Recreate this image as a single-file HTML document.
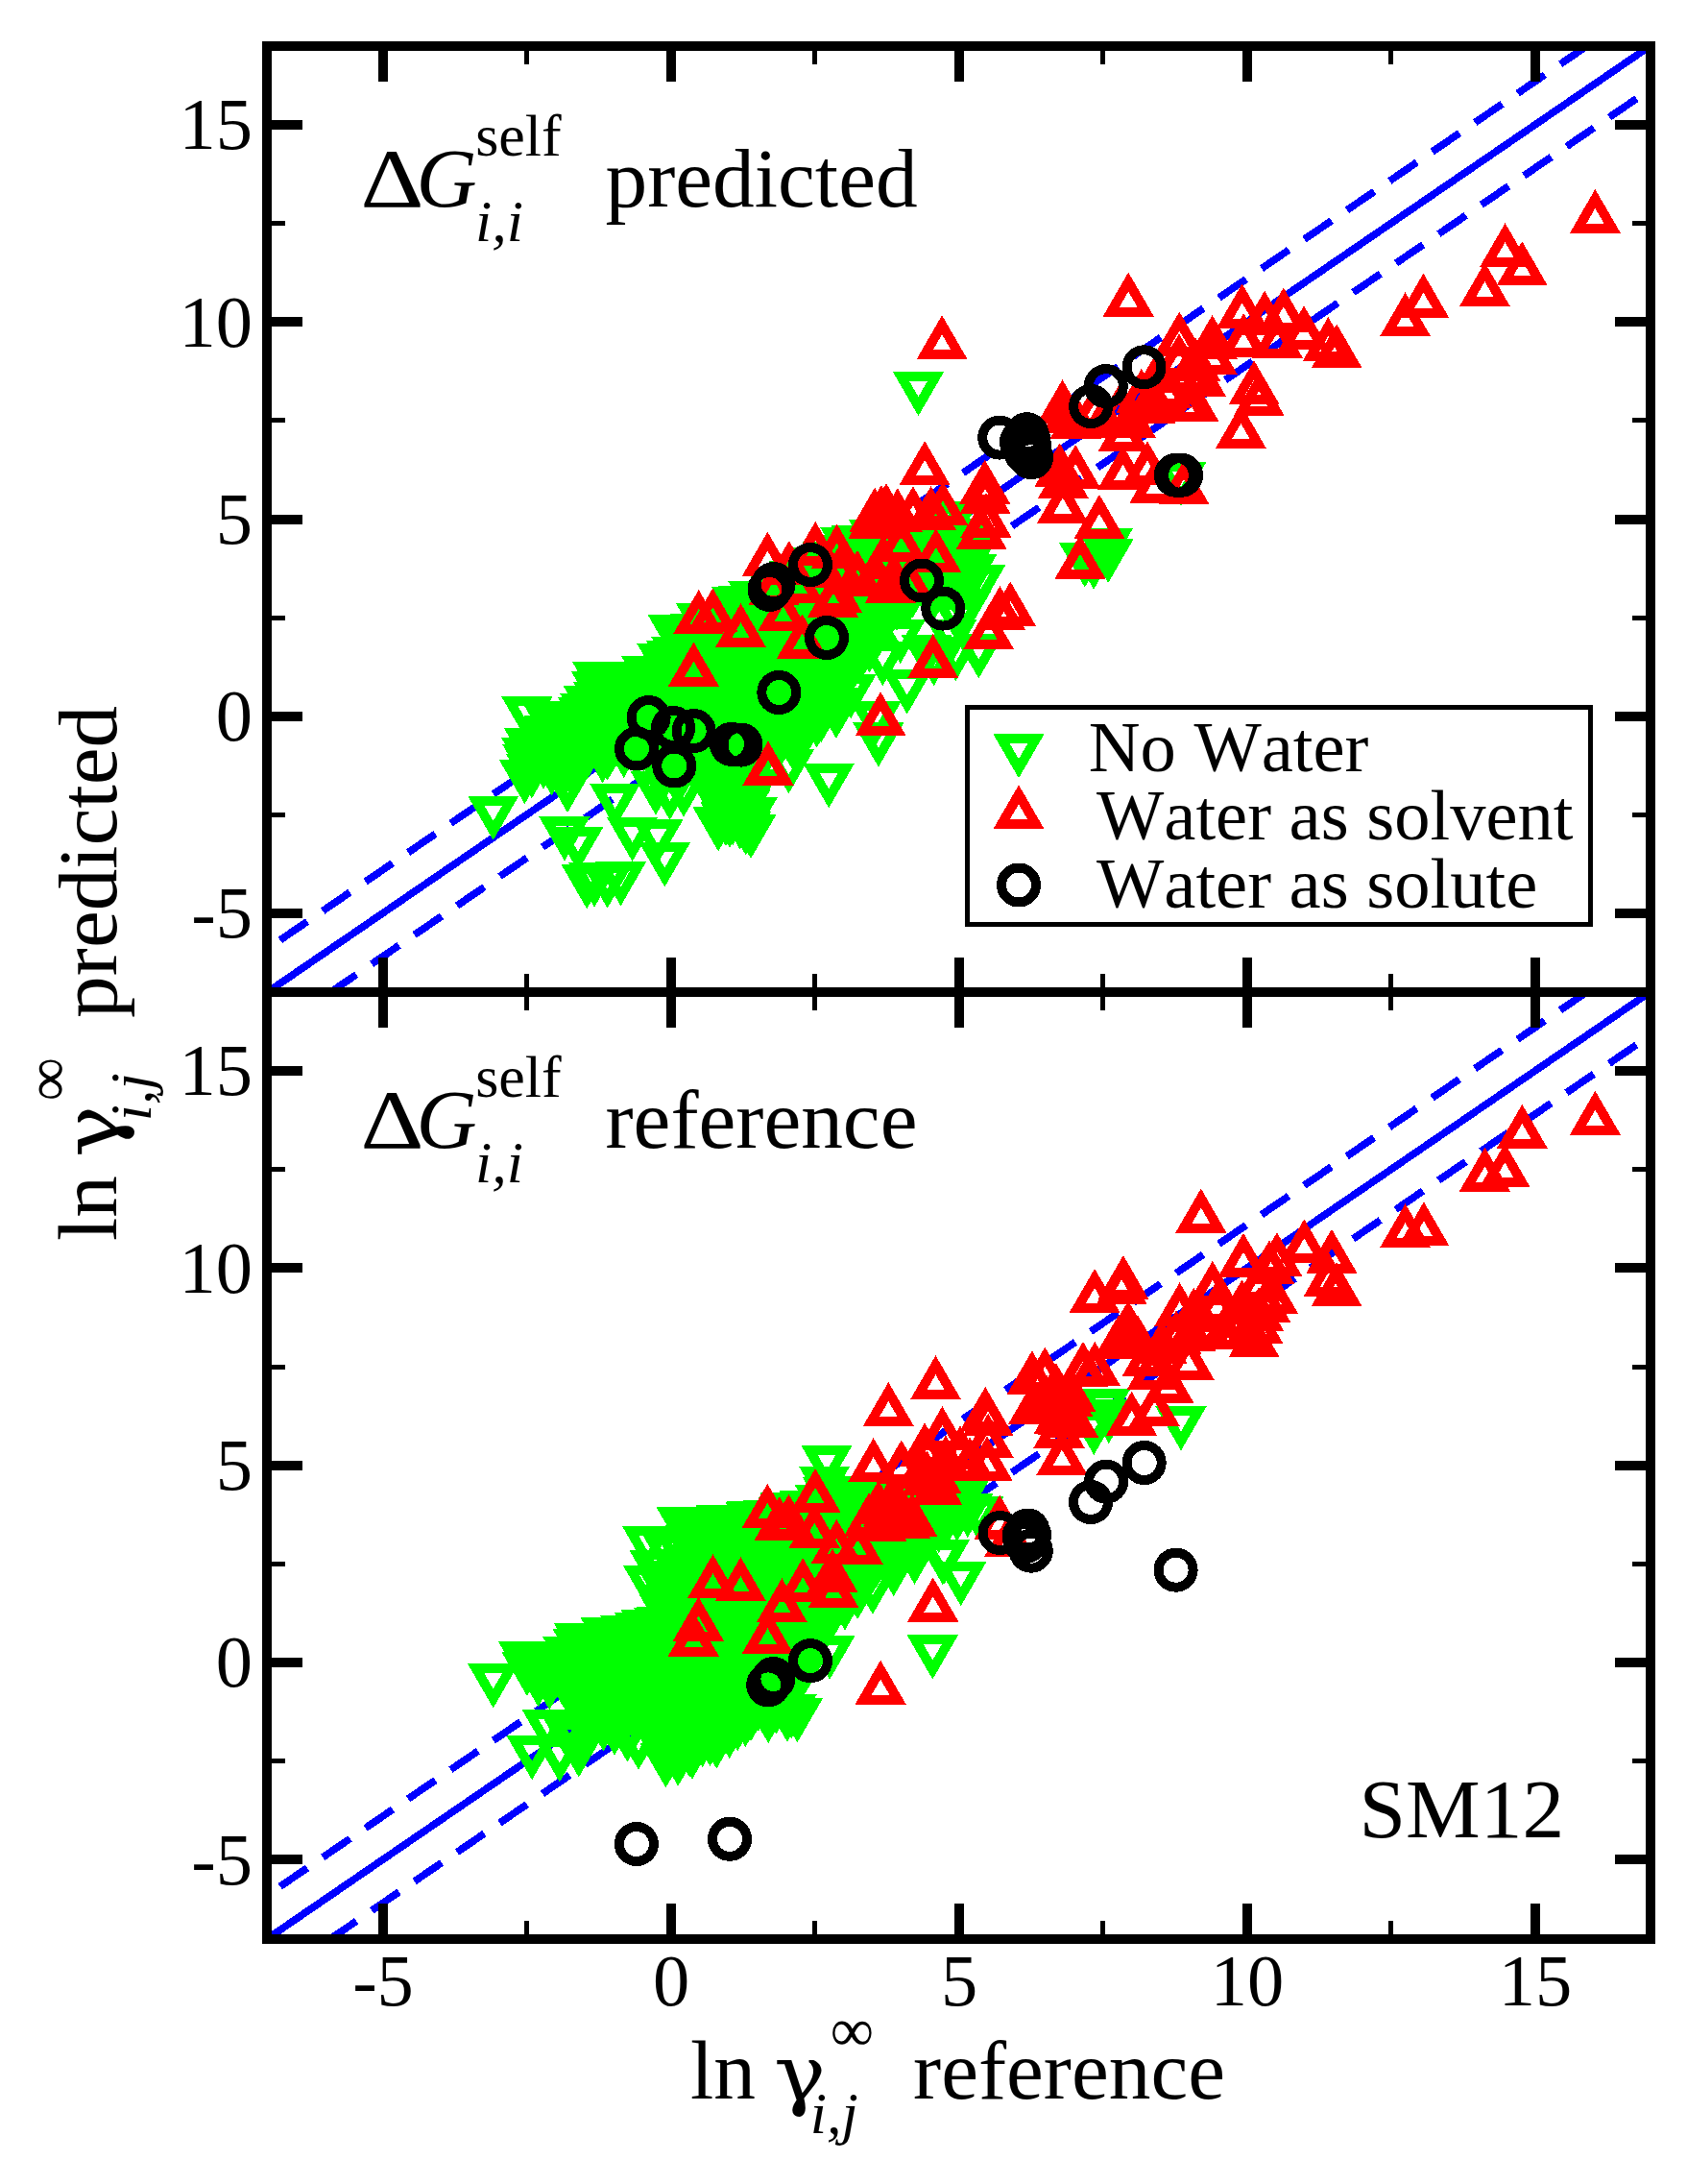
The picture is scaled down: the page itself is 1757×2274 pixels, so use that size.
<!DOCTYPE html>
<html lang="en"><head><meta charset="utf-8"><title>ln gamma infinity: predicted vs reference (SM12)</title>
<style>html,body{margin:0;padding:0;background:#fff}svg{display:block}text{font-family:"Liberation Serif","DejaVu Serif",serif;fill:#000;font-kerning:none;font-variant-ligatures:none}.it{font-style:italic}</style></head><body>
<svg width="1757" height="2274" viewBox="0 0 1757 2274">
<defs>
<path id="g" d="M-18,-10.39L18,-10.39L0,20.78Z" fill="none" stroke="#00ff00" stroke-width="10" stroke-linejoin="miter"/>
<path id="r" d="M0,-20.78L-18,10.39L18,10.39Z" fill="none" stroke="#ff0000" stroke-width="10" stroke-linejoin="miter"/>
<circle id="c" r="18" fill="none" stroke="#000" stroke-width="10"/>
<clipPath id="ct"><rect x="278.5" y="48.0" width="1440.0" height="985.0"/></clipPath>
<clipPath id="cb"><rect x="278.5" y="1033.0" width="1440.0" height="985.5"/></clipPath>
</defs>
<rect width="1757" height="2274" fill="#fff"/>
<g clip-path="url(#ct)" stroke="#0000ff" stroke-width="7.7" fill="none" shape-rendering="crispEdges">
<line x1="278.5" y1="1033.0" x2="1718.5" y2="48.0"/>
<line x1="278.5" y1="987.9" x2="1718.5" y2="2.9" stroke-dasharray="34.35 19.5" stroke-dashoffset="37.85"/>
<line x1="278.5" y1="1078.1" x2="1718.5" y2="93.1" stroke-dasharray="34.35 19.5" stroke-dashoffset="29.85"/>
</g>
<g clip-path="url(#ct)" shape-rendering="crispEdges">
<g>
<use href="#g" x="981.0" y="537.4"/><use href="#g" x="991.6" y="540.2"/><use href="#g" x="921.2" y="553.4"/><use href="#g" x="952.7" y="553.3"/><use href="#g" x="961.5" y="555.4"/><use href="#g" x="973.4" y="553.3"/><use href="#g" x="985.3" y="551.2"/><use href="#g" x="1003.8" y="555.6"/><use href="#g" x="892.3" y="562.4"/><use href="#g" x="904.5" y="564.5"/><use href="#g" x="915.5" y="564.9"/><use href="#g" x="933.2" y="558.4"/><use href="#g" x="946.4" y="564.2"/><use href="#g" x="952.1" y="561.8"/><use href="#g" x="969.6" y="565.9"/><use href="#g" x="980.4" y="562.8"/><use href="#g" x="998.0" y="564.9"/><use href="#g" x="875.3" y="572.8"/><use href="#g" x="884.7" y="569.9"/><use href="#g" x="897.3" y="572.6"/><use href="#g" x="911.0" y="568.3"/><use href="#g" x="927.3" y="572.7"/><use href="#g" x="935.1" y="575.3"/><use href="#g" x="949.6" y="572.5"/><use href="#g" x="963.7" y="568.6"/><use href="#g" x="975.4" y="571.8"/><use href="#g" x="992.2" y="576.5"/><use href="#g" x="998.9" y="572.4"/><use href="#g" x="1010.6" y="572.0"/><use href="#g" x="849.1" y="585.1"/><use href="#g" x="862.3" y="579.3"/><use href="#g" x="880.5" y="582.3"/><use href="#g" x="893.1" y="579.6"/><use href="#g" x="902.6" y="584.7"/><use href="#g" x="912.1" y="580.3"/><use href="#g" x="931.2" y="586.7"/><use href="#g" x="946.8" y="579.5"/><use href="#g" x="955.6" y="585.3"/><use href="#g" x="968.5" y="584.7"/><use href="#g" x="978.7" y="579.1"/><use href="#g" x="990.9" y="578.8"/><use href="#g" x="1008.0" y="583.1"/><use href="#g" x="833.8" y="595.8"/><use href="#g" x="847.4" y="592.5"/><use href="#g" x="860.0" y="589.5"/><use href="#g" x="869.6" y="593.1"/><use href="#g" x="879.5" y="592.1"/><use href="#g" x="898.3" y="594.5"/><use href="#g" x="907.6" y="597.4"/><use href="#g" x="924.5" y="591.9"/><use href="#g" x="937.5" y="594.0"/><use href="#g" x="949.3" y="592.4"/><use href="#g" x="966.5" y="594.7"/><use href="#g" x="976.8" y="595.8"/><use href="#g" x="992.4" y="589.1"/><use href="#g" x="1002.1" y="595.6"/><use href="#g" x="1011.8" y="592.5"/><use href="#g" x="811.5" y="607.4"/><use href="#g" x="827.8" y="599.7"/><use href="#g" x="842.9" y="607.8"/><use href="#g" x="847.6" y="607.5"/><use href="#g" x="863.9" y="603.6"/><use href="#g" x="881.8" y="601.5"/><use href="#g" x="890.7" y="607.8"/><use href="#g" x="905.5" y="603.5"/><use href="#g" x="920.9" y="606.7"/><use href="#g" x="930.4" y="600.3"/><use href="#g" x="943.6" y="603.4"/><use href="#g" x="952.8" y="599.7"/><use href="#g" x="968.8" y="600.4"/><use href="#g" x="981.0" y="605.3"/><use href="#g" x="994.1" y="601.6"/><use href="#g" x="1008.2" y="603.1"/><use href="#g" x="808.8" y="615.3"/><use href="#g" x="821.4" y="611.6"/><use href="#g" x="831.3" y="612.0"/><use href="#g" x="847.8" y="613.0"/><use href="#g" x="859.4" y="618.7"/><use href="#g" x="869.4" y="614.6"/><use href="#g" x="886.2" y="618.0"/><use href="#g" x="896.3" y="613.0"/><use href="#g" x="906.3" y="617.6"/><use href="#g" x="919.2" y="610.4"/><use href="#g" x="936.6" y="614.1"/><use href="#g" x="950.7" y="612.4"/><use href="#g" x="964.5" y="610.3"/><use href="#g" x="972.4" y="615.7"/><use href="#g" x="984.2" y="612.4"/><use href="#g" x="773.9" y="625.2"/><use href="#g" x="790.7" y="626.0"/><use href="#g" x="802.3" y="620.6"/><use href="#g" x="812.9" y="627.2"/><use href="#g" x="821.7" y="620.8"/><use href="#g" x="840.7" y="628.2"/><use href="#g" x="847.7" y="625.8"/><use href="#g" x="861.3" y="626.8"/><use href="#g" x="878.9" y="622.3"/><use href="#g" x="888.0" y="627.0"/><use href="#g" x="903.7" y="627.0"/><use href="#g" x="915.5" y="623.1"/><use href="#g" x="933.8" y="626.2"/><use href="#g" x="942.4" y="624.9"/><use href="#g" x="764.0" y="637.3"/><use href="#g" x="778.3" y="635.4"/><use href="#g" x="795.9" y="634.8"/><use href="#g" x="803.8" y="638.5"/><use href="#g" x="822.8" y="633.6"/><use href="#g" x="832.4" y="639.2"/><use href="#g" x="844.8" y="632.5"/><use href="#g" x="853.9" y="639.1"/><use href="#g" x="873.7" y="634.0"/><use href="#g" x="884.3" y="635.1"/><use href="#g" x="894.9" y="639.5"/><use href="#g" x="911.4" y="632.6"/><use href="#g" x="918.5" y="634.8"/><use href="#g" x="730.6" y="643.6"/><use href="#g" x="747.2" y="647.4"/><use href="#g" x="759.2" y="647.1"/><use href="#g" x="769.9" y="644.4"/><use href="#g" x="786.2" y="649.6"/><use href="#g" x="802.5" y="646.8"/><use href="#g" x="808.1" y="644.3"/><use href="#g" x="827.4" y="643.0"/><use href="#g" x="839.1" y="645.0"/><use href="#g" x="847.0" y="649.9"/><use href="#g" x="867.2" y="642.7"/><use href="#g" x="878.6" y="643.5"/><use href="#g" x="889.4" y="645.8"/><use href="#g" x="901.7" y="643.9"/><use href="#g" x="915.5" y="646.9"/><use href="#g" x="713.6" y="657.2"/><use href="#g" x="724.4" y="654.7"/><use href="#g" x="741.1" y="658.4"/><use href="#g" x="757.0" y="656.8"/><use href="#g" x="763.9" y="658.2"/><use href="#g" x="783.7" y="656.2"/><use href="#g" x="791.7" y="655.8"/><use href="#g" x="802.7" y="657.7"/><use href="#g" x="823.4" y="655.9"/><use href="#g" x="834.0" y="658.9"/><use href="#g" x="842.2" y="659.8"/><use href="#g" x="859.2" y="653.1"/><use href="#g" x="867.2" y="653.5"/><use href="#g" x="884.7" y="657.6"/><use href="#g" x="895.4" y="659.7"/><use href="#g" x="908.7" y="655.5"/><use href="#g" x="708.7" y="664.0"/><use href="#g" x="722.1" y="664.7"/><use href="#g" x="735.8" y="662.0"/><use href="#g" x="749.1" y="663.0"/><use href="#g" x="764.7" y="667.1"/><use href="#g" x="773.2" y="665.4"/><use href="#g" x="787.6" y="667.9"/><use href="#g" x="801.8" y="668.5"/><use href="#g" x="812.4" y="670.7"/><use href="#g" x="828.6" y="669.4"/><use href="#g" x="837.7" y="665.6"/><use href="#g" x="852.1" y="669.9"/><use href="#g" x="864.7" y="666.4"/><use href="#g" x="876.9" y="669.9"/><use href="#g" x="888.9" y="662.1"/><use href="#g" x="905.6" y="669.8"/><use href="#g" x="710.7" y="680.2"/><use href="#g" x="726.3" y="676.6"/><use href="#g" x="744.9" y="680.9"/><use href="#g" x="753.8" y="673.9"/><use href="#g" x="765.1" y="680.4"/><use href="#g" x="783.6" y="673.8"/><use href="#g" x="796.1" y="675.3"/><use href="#g" x="805.7" y="673.6"/><use href="#g" x="822.5" y="681.1"/><use href="#g" x="829.3" y="677.8"/><use href="#g" x="842.2" y="680.1"/><use href="#g" x="853.9" y="673.0"/><use href="#g" x="873.1" y="674.9"/><use href="#g" x="887.6" y="680.0"/><use href="#g" x="898.9" y="673.3"/><use href="#g" x="699.9" y="682.8"/><use href="#g" x="708.2" y="689.3"/><use href="#g" x="720.5" y="690.9"/><use href="#g" x="734.5" y="684.1"/><use href="#g" x="748.0" y="688.3"/><use href="#g" x="759.2" y="688.4"/><use href="#g" x="776.1" y="687.2"/><use href="#g" x="786.6" y="690.1"/><use href="#g" x="801.2" y="687.2"/><use href="#g" x="816.6" y="684.0"/><use href="#g" x="828.0" y="684.0"/><use href="#g" x="839.5" y="684.6"/><use href="#g" x="851.0" y="689.5"/><use href="#g" x="867.1" y="689.6"/><use href="#g" x="875.1" y="686.9"/><use href="#g" x="888.0" y="687.7"/><use href="#g" x="688.9" y="699.8"/><use href="#g" x="706.4" y="694.2"/><use href="#g" x="714.6" y="699.6"/><use href="#g" x="723.8" y="695.0"/><use href="#g" x="744.5" y="694.1"/><use href="#g" x="753.0" y="695.6"/><use href="#g" x="766.3" y="693.5"/><use href="#g" x="775.8" y="701.9"/><use href="#g" x="795.4" y="699.5"/><use href="#g" x="803.5" y="695.2"/><use href="#g" x="819.5" y="695.0"/><use href="#g" x="831.7" y="701.3"/><use href="#g" x="843.8" y="695.9"/><use href="#g" x="862.4" y="698.4"/><use href="#g" x="866.8" y="696.5"/><use href="#g" x="885.4" y="693.4"/><use href="#g" x="629.5" y="711.7"/><use href="#g" x="645.5" y="705.7"/><use href="#g" x="655.2" y="704.6"/><use href="#g" x="673.5" y="706.5"/><use href="#g" x="684.9" y="709.8"/><use href="#g" x="699.2" y="703.4"/><use href="#g" x="706.9" y="706.7"/><use href="#g" x="717.7" y="711.3"/><use href="#g" x="732.9" y="710.3"/><use href="#g" x="747.7" y="703.7"/><use href="#g" x="759.5" y="705.4"/><use href="#g" x="769.3" y="704.6"/><use href="#g" x="787.4" y="703.5"/><use href="#g" x="797.8" y="707.1"/><use href="#g" x="812.9" y="704.5"/><use href="#g" x="827.4" y="705.6"/><use href="#g" x="840.6" y="709.3"/><use href="#g" x="848.3" y="705.1"/><use href="#g" x="862.5" y="709.7"/><use href="#g" x="876.6" y="706.8"/><use href="#g" x="621.6" y="714.5"/><use href="#g" x="635.6" y="717.5"/><use href="#g" x="646.8" y="719.0"/><use href="#g" x="664.8" y="718.7"/><use href="#g" x="677.8" y="713.9"/><use href="#g" x="688.0" y="717.0"/><use href="#g" x="698.0" y="717.3"/><use href="#g" x="710.9" y="718.2"/><use href="#g" x="728.8" y="717.9"/><use href="#g" x="739.4" y="716.0"/><use href="#g" x="749.7" y="716.8"/><use href="#g" x="770.6" y="718.8"/><use href="#g" x="777.8" y="719.7"/><use href="#g" x="790.1" y="717.9"/><use href="#g" x="807.0" y="722.3"/><use href="#g" x="817.7" y="718.9"/><use href="#g" x="836.0" y="720.7"/><use href="#g" x="846.2" y="719.3"/><use href="#g" x="857.2" y="717.4"/><use href="#g" x="869.0" y="721.2"/><use href="#g" x="621.7" y="731.6"/><use href="#g" x="627.4" y="729.7"/><use href="#g" x="643.4" y="729.2"/><use href="#g" x="655.3" y="726.6"/><use href="#g" x="671.8" y="728.9"/><use href="#g" x="680.1" y="726.3"/><use href="#g" x="693.9" y="725.7"/><use href="#g" x="708.6" y="725.2"/><use href="#g" x="717.5" y="724.7"/><use href="#g" x="730.9" y="730.5"/><use href="#g" x="744.0" y="728.2"/><use href="#g" x="763.0" y="728.4"/><use href="#g" x="770.4" y="731.9"/><use href="#g" x="789.9" y="724.5"/><use href="#g" x="797.3" y="728.7"/><use href="#g" x="815.2" y="727.6"/><use href="#g" x="827.5" y="726.3"/><use href="#g" x="840.5" y="727.0"/><use href="#g" x="850.0" y="731.0"/><use href="#g" x="867.6" y="731.6"/><use href="#g" x="609.8" y="737.3"/><use href="#g" x="626.7" y="742.1"/><use href="#g" x="635.0" y="738.0"/><use href="#g" x="651.1" y="741.4"/><use href="#g" x="667.4" y="738.0"/><use href="#g" x="677.8" y="739.4"/><use href="#g" x="691.7" y="735.8"/><use href="#g" x="699.0" y="735.4"/><use href="#g" x="718.9" y="736.7"/><use href="#g" x="727.9" y="735.5"/><use href="#g" x="739.4" y="734.6"/><use href="#g" x="754.6" y="735.8"/><use href="#g" x="768.1" y="736.9"/><use href="#g" x="777.5" y="738.8"/><use href="#g" x="791.8" y="736.8"/><use href="#g" x="801.9" y="735.0"/><use href="#g" x="822.6" y="737.3"/><use href="#g" x="828.2" y="736.1"/><use href="#g" x="844.8" y="743.5"/><use href="#g" x="855.3" y="742.3"/><use href="#g" x="870.9" y="738.2"/><use href="#g" x="569.7" y="745.0"/><use href="#g" x="578.7" y="752.2"/><use href="#g" x="594.2" y="751.5"/><use href="#g" x="603.6" y="752.2"/><use href="#g" x="620.5" y="751.8"/><use href="#g" x="634.9" y="745.8"/><use href="#g" x="647.6" y="748.5"/><use href="#g" x="658.4" y="747.1"/><use href="#g" x="673.2" y="745.1"/><use href="#g" x="683.2" y="746.9"/><use href="#g" x="694.5" y="748.2"/><use href="#g" x="709.9" y="752.2"/><use href="#g" x="720.3" y="750.7"/><use href="#g" x="733.2" y="747.4"/><use href="#g" x="751.2" y="747.8"/><use href="#g" x="756.8" y="747.9"/><use href="#g" x="775.7" y="746.8"/><use href="#g" x="788.7" y="749.8"/><use href="#g" x="801.1" y="746.5"/><use href="#g" x="808.9" y="746.2"/><use href="#g" x="824.1" y="748.8"/><use href="#g" x="834.0" y="749.4"/><use href="#g" x="850.6" y="747.8"/><use href="#g" x="562.2" y="761.0"/><use href="#g" x="572.0" y="760.4"/><use href="#g" x="581.5" y="762.9"/><use href="#g" x="599.7" y="759.4"/><use href="#g" x="612.5" y="759.1"/><use href="#g" x="623.0" y="757.3"/><use href="#g" x="637.9" y="760.5"/><use href="#g" x="650.1" y="755.5"/><use href="#g" x="664.2" y="759.3"/><use href="#g" x="676.8" y="760.7"/><use href="#g" x="692.9" y="756.6"/><use href="#g" x="701.7" y="764.3"/><use href="#g" x="717.2" y="758.1"/><use href="#g" x="730.2" y="764.3"/><use href="#g" x="740.1" y="763.1"/><use href="#g" x="750.6" y="764.3"/><use href="#g" x="766.9" y="757.4"/><use href="#g" x="783.1" y="761.2"/><use href="#g" x="797.0" y="762.8"/><use href="#g" x="808.7" y="759.9"/><use href="#g" x="823.5" y="755.8"/><use href="#g" x="835.4" y="761.7"/><use href="#g" x="551.5" y="773.4"/><use href="#g" x="566.6" y="773.9"/><use href="#g" x="574.6" y="774.6"/><use href="#g" x="588.8" y="771.4"/><use href="#g" x="607.9" y="772.3"/><use href="#g" x="614.7" y="771.7"/><use href="#g" x="629.9" y="765.8"/><use href="#g" x="642.0" y="768.5"/><use href="#g" x="657.7" y="768.2"/><use href="#g" x="670.4" y="772.0"/><use href="#g" x="679.6" y="766.8"/><use href="#g" x="697.3" y="769.9"/><use href="#g" x="705.1" y="766.7"/><use href="#g" x="725.5" y="771.2"/><use href="#g" x="733.2" y="767.4"/><use href="#g" x="752.0" y="771.9"/><use href="#g" x="762.6" y="768.9"/><use href="#g" x="771.8" y="769.4"/><use href="#g" x="783.3" y="771.4"/><use href="#g" x="798.8" y="773.1"/><use href="#g" x="811.7" y="769.8"/><use href="#g" x="548.9" y="783.8"/><use href="#g" x="559.8" y="781.0"/><use href="#g" x="568.4" y="784.2"/><use href="#g" x="581.3" y="779.4"/><use href="#g" x="596.9" y="782.6"/><use href="#g" x="612.5" y="779.2"/><use href="#g" x="627.6" y="784.7"/><use href="#g" x="632.7" y="781.8"/><use href="#g" x="649.7" y="779.3"/><use href="#g" x="662.7" y="778.9"/><use href="#g" x="677.6" y="781.6"/><use href="#g" x="693.3" y="784.9"/><use href="#g" x="706.5" y="779.6"/><use href="#g" x="718.0" y="782.0"/><use href="#g" x="729.8" y="785.1"/><use href="#g" x="737.1" y="780.3"/><use href="#g" x="753.1" y="782.0"/><use href="#g" x="764.4" y="785.1"/><use href="#g" x="777.4" y="779.4"/><use href="#g" x="789.8" y="779.6"/><use href="#g" x="549.9" y="790.6"/><use href="#g" x="566.0" y="790.6"/><use href="#g" x="581.7" y="787.4"/><use href="#g" x="594.7" y="787.9"/><use href="#g" x="691.2" y="787.5"/><use href="#g" x="706.7" y="795.2"/><use href="#g" x="722.8" y="794.2"/><use href="#g" x="730.4" y="790.2"/><use href="#g" x="743.7" y="788.8"/><use href="#g" x="757.0" y="794.8"/><use href="#g" x="771.9" y="790.9"/><use href="#g" x="787.9" y="794.5"/><use href="#g" x="585.1" y="803.7"/><use href="#g" x="593.9" y="797.7"/><use href="#g" x="704.6" y="802.7"/><use href="#g" x="741.5" y="805.3"/><use href="#g" x="755.3" y="797.1"/><use href="#g" x="771.0" y="803.7"/><use href="#g" x="780.7" y="796.9"/><use href="#g" x="743.5" y="814.8"/><use href="#g" x="759.4" y="813.8"/><use href="#g" x="772.9" y="812.9"/><use href="#g" x="787.0" y="816.1"/><use href="#g" x="758.0" y="822.3"/><use href="#g" x="767.6" y="820.8"/><use href="#g" x="777.6" y="826.3"/><use href="#g" x="749.8" y="835.4"/><use href="#g" x="756.0" y="828.7"/><use href="#g" x="776.2" y="836.9"/><use href="#g" x="758.1" y="840.2"/><use href="#g" x="763.7" y="844.6"/><use href="#g" x="783.5" y="845.1"/><use href="#g" x="760.1" y="851.9"/><use href="#g" x="777.3" y="851.0"/><use href="#g" x="513.7" y="844.0"/><use href="#g" x="548.9" y="740.7"/><use href="#g" x="622.8" y="704.6"/><use href="#g" x="673.8" y="698.6"/><use href="#g" x="690.0" y="685.6"/><use href="#g" x="704.7" y="678.3"/><use href="#g" x="701.1" y="655.2"/><use href="#g" x="612.9" y="728.9"/><use href="#g" x="623.7" y="725.5"/><use href="#g" x="607.5" y="741.7"/><use href="#g" x="768.0" y="626.8"/><use href="#g" x="785.0" y="620.6"/><use href="#g" x="881.0" y="564.6"/><use href="#g" x="910.6" y="556.5"/><use href="#g" x="956.5" y="402.4"/><use href="#g" x="546.4" y="806.4"/><use href="#g" x="574.5" y="797.6"/><use href="#g" x="591.0" y="815.4"/><use href="#g" x="553.8" y="800.7"/><use href="#g" x="588.0" y="865.7"/><use href="#g" x="602.0" y="876.0"/><use href="#g" x="685.0" y="868.5"/><use href="#g" x="658.6" y="866.2"/><use href="#g" x="692.3" y="892.7"/><use href="#g" x="611.2" y="915.5"/><use href="#g" x="646.5" y="912.5"/><use href="#g" x="619.1" y="913.8"/><use href="#g" x="632.6" y="914.8"/><use href="#g" x="640.6" y="831.1"/><use href="#g" x="748.1" y="855.7"/><use href="#g" x="756.0" y="850.5"/><use href="#g" x="763.3" y="849.5"/><use href="#g" x="770.5" y="853.6"/><use href="#g" x="776.8" y="859.9"/><use href="#g" x="782.0" y="863.3"/><use href="#g" x="774.1" y="837.6"/><use href="#g" x="863.2" y="810.5"/><use href="#g" x="914.9" y="767.8"/><use href="#g" x="944.7" y="712.8"/><use href="#g" x="995.2" y="678.5"/><use href="#g" x="1019.3" y="675.7"/><use href="#g" x="828.0" y="775.5"/><use href="#g" x="1129.8" y="580.8"/><use href="#g" x="1153.2" y="565.8"/><use href="#g" x="1154.2" y="576.2"/><use href="#g" x="1139.2" y="582.9"/><use href="#g" x="1230.0" y="495.9"/><use href="#g" x="1020.9" y="603.2"/><use href="#g" x="937.6" y="660.3"/><use href="#g" x="990.9" y="660.3"/><use href="#g" x="965.0" y="676.0"/><use href="#g" x="919.3" y="683.5"/><use href="#g" x="972.6" y="683.5"/><use href="#g" x="912.0" y="745.8"/><use href="#g" x="886.1" y="717.6"/><use href="#g" x="821.4" y="795.6"/><use href="#g" x="683.0" y="818.0"/><use href="#g" x="697.6" y="823.2"/><use href="#g" x="712.0" y="820.0"/><use href="#g" x="1006.0" y="630.0"/><use href="#g" x="998.0" y="640.0"/>
</g>
<g>
<use href="#r" x="722.4" y="699.3"/><use href="#r" x="771.5" y="659.0"/><use href="#r" x="727.7" y="644.8"/><use href="#r" x="800.0" y="802.3"/><use href="#r" x="742.3" y="643.0"/><use href="#r" x="799.4" y="584.5"/><use href="#r" x="821.8" y="593.8"/><use href="#r" x="849.2" y="573.7"/><use href="#r" x="871.6" y="576.2"/><use href="#r" x="963.1" y="489.8"/><use href="#r" x="835.6" y="670.2"/><use href="#r" x="815.7" y="642.0"/><use href="#r" x="867.4" y="627.5"/><use href="#r" x="871.3" y="622.4"/><use href="#r" x="927.4" y="612.6"/><use href="#r" x="971.8" y="690.6"/><use href="#r" x="917.1" y="751.0"/><use href="#r" x="974.8" y="580.8"/><use href="#r" x="1029.6" y="661.0"/><use href="#r" x="1041.5" y="640.8"/><use href="#r" x="1052.2" y="636.2"/><use href="#r" x="1025.7" y="509.4"/><use href="#r" x="1026.0" y="519.8"/><use href="#r" x="1027.0" y="544.4"/><use href="#r" x="1022.2" y="556.8"/><use href="#r" x="1106.5" y="426.0"/><use href="#r" x="1120.1" y="493.8"/><use href="#r" x="1106.8" y="529.2"/><use href="#r" x="1145.0" y="545.7"/><use href="#r" x="1125.0" y="587.5"/><use href="#r" x="1169.5" y="494.5"/><use href="#r" x="1232.9" y="509.8"/><use href="#r" x="1202.7" y="509.0"/><use href="#r" x="1292.4" y="451.8"/><use href="#r" x="1175.2" y="314.3"/><use href="#r" x="1293.7" y="326.2"/><use href="#r" x="1317.1" y="333.4"/><use href="#r" x="1336.8" y="330.3"/><use href="#r" x="1358.0" y="349.0"/><use href="#r" x="1383.3" y="360.8"/><use href="#r" x="1392.2" y="368.1"/><use href="#r" x="1228.3" y="355.2"/><use href="#r" x="1262.6" y="358.7"/><use href="#r" x="1306.1" y="406.0"/><use href="#r" x="1311.2" y="417.9"/><use href="#r" x="1235.3" y="424.1"/><use href="#r" x="1243.2" y="424.1"/><use href="#r" x="1177.5" y="440.7"/><use href="#r" x="981.1" y="359.0"/><use href="#r" x="1661.4" y="227.7"/><use href="#r" x="1567.6" y="263.0"/><use href="#r" x="1585.3" y="282.1"/><use href="#r" x="1546.4" y="304.0"/><use href="#r" x="1482.5" y="315.4"/><use href="#r" x="1463.6" y="335.1"/><use href="#r" x="911.1" y="538.3"/><use href="#r" x="917.8" y="536.0"/><use href="#r" x="923.0" y="533.8"/><use href="#r" x="934.8" y="539.0"/><use href="#r" x="1103.7" y="492.1"/><use href="#r" x="1107.4" y="503.9"/><use href="#r" x="938.5" y="569.2"/><use href="#r" x="919.8" y="587.2"/><use href="#r" x="893.0" y="603.5"/><use href="#r" x="913.0" y="605.3"/><use href="#r" x="875.0" y="597.0"/><use href="#r" x="950.9" y="536.9"/><use href="#r" x="969.6" y="536.9"/><use href="#r" x="982.0" y="532.0"/><use href="#r" x="909.7" y="546.1"/><use href="#r" x="924.3" y="546.1"/><use href="#r" x="1120.3" y="441.2"/><use href="#r" x="1150.0" y="441.0"/><use href="#r" x="1140.0" y="431.0"/><use href="#r" x="1165.0" y="432.0"/><use href="#r" x="1170.0" y="455.0"/><use href="#r" x="1195.0" y="490.0"/><use href="#r" x="1295.2" y="356.9"/><use href="#r" x="1330.2" y="357.4"/><use href="#r" x="1262.3" y="374.8"/><use href="#r" x="1250.5" y="397.8"/><use href="#r" x="1237.8" y="392.2"/><use href="#r" x="1245.0" y="382.0"/><use href="#r" x="1228.0" y="378.0"/><use href="#r" x="1188.9" y="414.6"/><use href="#r" x="1206.6" y="394.0"/><use href="#r" x="1200.0" y="418.0"/><use href="#r" x="1215.0" y="410.0"/><use href="#r" x="946.8" y="610.8"/><use href="#r" x="806.0" y="615.0"/><use href="#r" x="832.0" y="613.0"/><use href="#r" x="1198.0" y="426.0"/><use href="#r" x="1112.0" y="436.0"/>
</g>
<g>
<use href="#c" x="675.6" y="747.1"/><use href="#c" x="663.0" y="779.5"/><use href="#c" x="702.3" y="797.5"/><use href="#c" x="701.1" y="757.9"/><use href="#c" x="722.6" y="761.0"/><use href="#c" x="762.0" y="774.9"/><use href="#c" x="771.5" y="775.6"/><use href="#c" x="811.3" y="721.0"/><use href="#c" x="861.0" y="664.0"/><use href="#c" x="801.5" y="613.9"/><use href="#c" x="805.6" y="608.1"/><use href="#c" x="844.0" y="588.0"/><use href="#c" x="960.0" y="604.5"/><use href="#c" x="982.3" y="633.6"/><use href="#c" x="1041.2" y="455.6"/><use href="#c" x="1069.5" y="452.2"/><use href="#c" x="1074.0" y="476.2"/><use href="#c" x="1064.0" y="460.0"/><use href="#c" x="1072.0" y="464.0"/><use href="#c" x="1136.2" y="423.0"/><use href="#c" x="1151.8" y="402.1"/><use href="#c" x="1191.5" y="382.3"/><use href="#c" x="1224.9" y="494.8"/><use href="#c" x="1230.1" y="494.8"/><use href="#c" x="1068.0" y="470.0"/><use href="#c" x="1071.0" y="457.0"/>
</g>
</g>
<g clip-path="url(#cb)" stroke="#0000ff" stroke-width="7.7" fill="none" shape-rendering="crispEdges">
<line x1="278.5" y1="2018.5" x2="1718.5" y2="1033.0"/>
<line x1="278.5" y1="1973.3" x2="1718.5" y2="987.8" stroke-dasharray="34.35 19.5" stroke-dashoffset="37.85"/>
<line x1="278.5" y1="2063.7" x2="1718.5" y2="1078.2" stroke-dasharray="34.35 19.5" stroke-dashoffset="29.85"/>
</g>
<g clip-path="url(#cb)" shape-rendering="crispEdges">
<g>
<use href="#g" x="862.1" y="1553.0"/><use href="#g" x="877.2" y="1551.9"/><use href="#g" x="902.4" y="1555.0"/><use href="#g" x="913.2" y="1555.7"/><use href="#g" x="926.8" y="1554.0"/><use href="#g" x="939.5" y="1551.9"/><use href="#g" x="970.3" y="1552.2"/><use href="#g" x="983.2" y="1552.8"/><use href="#g" x="861.8" y="1564.2"/><use href="#g" x="868.0" y="1567.1"/><use href="#g" x="887.7" y="1559.9"/><use href="#g" x="892.6" y="1563.8"/><use href="#g" x="906.7" y="1564.9"/><use href="#g" x="922.7" y="1564.7"/><use href="#g" x="936.6" y="1565.3"/><use href="#g" x="951.9" y="1563.7"/><use href="#g" x="962.8" y="1561.2"/><use href="#g" x="971.7" y="1559.1"/><use href="#g" x="991.2" y="1560.1"/><use href="#g" x="1000.3" y="1561.1"/><use href="#g" x="800.5" y="1577.0"/><use href="#g" x="816.9" y="1574.7"/><use href="#g" x="824.9" y="1569.2"/><use href="#g" x="841.6" y="1572.2"/><use href="#g" x="850.4" y="1569.2"/><use href="#g" x="860.3" y="1572.2"/><use href="#g" x="881.8" y="1575.4"/><use href="#g" x="892.4" y="1574.7"/><use href="#g" x="901.4" y="1570.2"/><use href="#g" x="917.4" y="1569.2"/><use href="#g" x="930.3" y="1573.3"/><use href="#g" x="942.9" y="1569.8"/><use href="#g" x="951.6" y="1573.0"/><use href="#g" x="965.3" y="1574.5"/><use href="#g" x="979.8" y="1574.3"/><use href="#g" x="996.8" y="1574.2"/><use href="#g" x="1007.8" y="1570.4"/><use href="#g" x="741.7" y="1588.1"/><use href="#g" x="755.3" y="1587.0"/><use href="#g" x="764.2" y="1585.7"/><use href="#g" x="782.1" y="1579.7"/><use href="#g" x="795.9" y="1580.7"/><use href="#g" x="803.4" y="1579.6"/><use href="#g" x="820.5" y="1580.3"/><use href="#g" x="836.3" y="1579.1"/><use href="#g" x="847.8" y="1586.0"/><use href="#g" x="858.6" y="1584.3"/><use href="#g" x="873.7" y="1584.8"/><use href="#g" x="880.7" y="1586.3"/><use href="#g" x="895.7" y="1584.4"/><use href="#g" x="910.1" y="1587.3"/><use href="#g" x="922.2" y="1586.8"/><use href="#g" x="932.2" y="1582.0"/><use href="#g" x="950.6" y="1584.6"/><use href="#g" x="965.0" y="1580.9"/><use href="#g" x="977.8" y="1586.3"/><use href="#g" x="984.8" y="1580.3"/><use href="#g" x="718.4" y="1594.5"/><use href="#g" x="732.2" y="1589.8"/><use href="#g" x="748.3" y="1598.5"/><use href="#g" x="763.0" y="1596.1"/><use href="#g" x="770.3" y="1594.6"/><use href="#g" x="787.7" y="1596.4"/><use href="#g" x="799.0" y="1589.9"/><use href="#g" x="816.4" y="1591.9"/><use href="#g" x="827.7" y="1593.7"/><use href="#g" x="841.0" y="1592.5"/><use href="#g" x="847.8" y="1593.3"/><use href="#g" x="864.3" y="1596.7"/><use href="#g" x="876.6" y="1595.5"/><use href="#g" x="889.4" y="1596.1"/><use href="#g" x="900.5" y="1597.5"/><use href="#g" x="920.5" y="1589.7"/><use href="#g" x="932.8" y="1596.5"/><use href="#g" x="944.3" y="1590.4"/><use href="#g" x="957.6" y="1596.5"/><use href="#g" x="719.4" y="1603.7"/><use href="#g" x="731.5" y="1602.1"/><use href="#g" x="737.3" y="1605.6"/><use href="#g" x="755.8" y="1602.2"/><use href="#g" x="770.9" y="1608.7"/><use href="#g" x="781.7" y="1608.8"/><use href="#g" x="797.4" y="1601.2"/><use href="#g" x="808.1" y="1606.6"/><use href="#g" x="821.1" y="1602.9"/><use href="#g" x="832.4" y="1605.2"/><use href="#g" x="848.2" y="1600.3"/><use href="#g" x="856.9" y="1602.7"/><use href="#g" x="873.7" y="1600.9"/><use href="#g" x="880.0" y="1600.9"/><use href="#g" x="893.5" y="1603.8"/><use href="#g" x="913.3" y="1603.1"/><use href="#g" x="919.4" y="1605.9"/><use href="#g" x="934.5" y="1605.0"/><use href="#g" x="951.3" y="1604.0"/><use href="#g" x="708.7" y="1611.8"/><use href="#g" x="722.5" y="1614.2"/><use href="#g" x="737.1" y="1611.3"/><use href="#g" x="744.8" y="1613.8"/><use href="#g" x="756.0" y="1613.9"/><use href="#g" x="777.7" y="1618.1"/><use href="#g" x="783.6" y="1617.8"/><use href="#g" x="797.0" y="1612.4"/><use href="#g" x="813.8" y="1612.9"/><use href="#g" x="822.8" y="1611.0"/><use href="#g" x="835.6" y="1612.0"/><use href="#g" x="855.2" y="1610.6"/><use href="#g" x="864.9" y="1612.2"/><use href="#g" x="879.5" y="1610.3"/><use href="#g" x="889.3" y="1617.0"/><use href="#g" x="899.2" y="1614.0"/><use href="#g" x="914.9" y="1614.7"/><use href="#g" x="930.7" y="1611.0"/><use href="#g" x="704.7" y="1628.3"/><use href="#g" x="716.8" y="1623.5"/><use href="#g" x="732.3" y="1626.3"/><use href="#g" x="739.3" y="1627.8"/><use href="#g" x="751.5" y="1622.8"/><use href="#g" x="770.7" y="1621.2"/><use href="#g" x="783.4" y="1624.3"/><use href="#g" x="793.7" y="1626.9"/><use href="#g" x="809.7" y="1622.7"/><use href="#g" x="815.3" y="1625.3"/><use href="#g" x="829.5" y="1624.5"/><use href="#g" x="841.5" y="1621.5"/><use href="#g" x="858.6" y="1621.1"/><use href="#g" x="868.9" y="1624.2"/><use href="#g" x="880.3" y="1628.0"/><use href="#g" x="900.7" y="1620.9"/><use href="#g" x="912.8" y="1622.3"/><use href="#g" x="925.1" y="1621.2"/><use href="#g" x="711.7" y="1639.8"/><use href="#g" x="723.1" y="1634.0"/><use href="#g" x="737.9" y="1631.2"/><use href="#g" x="748.1" y="1635.2"/><use href="#g" x="764.0" y="1636.7"/><use href="#g" x="770.8" y="1632.6"/><use href="#g" x="782.3" y="1637.9"/><use href="#g" x="802.1" y="1634.4"/><use href="#g" x="810.0" y="1636.1"/><use href="#g" x="822.7" y="1635.8"/><use href="#g" x="837.1" y="1634.0"/><use href="#g" x="853.2" y="1633.3"/><use href="#g" x="863.0" y="1636.2"/><use href="#g" x="881.5" y="1632.4"/><use href="#g" x="888.7" y="1633.5"/><use href="#g" x="901.8" y="1635.5"/><use href="#g" x="698.5" y="1648.3"/><use href="#g" x="711.7" y="1644.7"/><use href="#g" x="723.6" y="1647.9"/><use href="#g" x="742.1" y="1642.2"/><use href="#g" x="758.1" y="1650.5"/><use href="#g" x="769.3" y="1648.8"/><use href="#g" x="781.9" y="1641.7"/><use href="#g" x="790.9" y="1643.6"/><use href="#g" x="801.6" y="1647.3"/><use href="#g" x="819.8" y="1644.7"/><use href="#g" x="834.3" y="1643.6"/><use href="#g" x="843.0" y="1642.5"/><use href="#g" x="855.6" y="1649.2"/><use href="#g" x="870.9" y="1648.2"/><use href="#g" x="887.3" y="1647.5"/><use href="#g" x="895.7" y="1650.3"/><use href="#g" x="694.6" y="1655.7"/><use href="#g" x="710.1" y="1655.8"/><use href="#g" x="717.6" y="1653.9"/><use href="#g" x="730.4" y="1652.3"/><use href="#g" x="746.2" y="1655.3"/><use href="#g" x="760.1" y="1653.7"/><use href="#g" x="771.1" y="1655.9"/><use href="#g" x="784.6" y="1654.2"/><use href="#g" x="799.4" y="1658.8"/><use href="#g" x="808.5" y="1652.0"/><use href="#g" x="825.0" y="1660.0"/><use href="#g" x="839.7" y="1655.2"/><use href="#g" x="855.8" y="1658.0"/><use href="#g" x="867.5" y="1659.5"/><use href="#g" x="873.3" y="1653.6"/><use href="#g" x="893.1" y="1655.4"/><use href="#g" x="693.5" y="1665.2"/><use href="#g" x="705.2" y="1665.2"/><use href="#g" x="718.6" y="1666.4"/><use href="#g" x="731.4" y="1663.5"/><use href="#g" x="740.0" y="1665.4"/><use href="#g" x="756.6" y="1670.1"/><use href="#g" x="763.7" y="1666.0"/><use href="#g" x="777.0" y="1662.8"/><use href="#g" x="789.6" y="1662.9"/><use href="#g" x="804.2" y="1666.2"/><use href="#g" x="822.7" y="1668.2"/><use href="#g" x="834.4" y="1665.3"/><use href="#g" x="843.4" y="1666.0"/><use href="#g" x="855.6" y="1662.4"/><use href="#g" x="869.0" y="1670.7"/><use href="#g" x="879.9" y="1666.8"/><use href="#g" x="692.3" y="1675.5"/><use href="#g" x="713.0" y="1680.3"/><use href="#g" x="725.2" y="1677.2"/><use href="#g" x="735.7" y="1676.3"/><use href="#g" x="749.6" y="1677.5"/><use href="#g" x="759.2" y="1681.5"/><use href="#g" x="773.5" y="1673.0"/><use href="#g" x="789.4" y="1673.5"/><use href="#g" x="797.5" y="1676.8"/><use href="#g" x="809.9" y="1676.7"/><use href="#g" x="825.0" y="1677.5"/><use href="#g" x="839.9" y="1678.9"/><use href="#g" x="847.4" y="1674.8"/><use href="#g" x="861.0" y="1675.7"/><use href="#g" x="689.1" y="1688.0"/><use href="#g" x="699.2" y="1683.8"/><use href="#g" x="710.7" y="1685.0"/><use href="#g" x="724.9" y="1688.7"/><use href="#g" x="743.8" y="1687.9"/><use href="#g" x="755.3" y="1686.9"/><use href="#g" x="763.1" y="1689.8"/><use href="#g" x="782.4" y="1684.4"/><use href="#g" x="791.3" y="1689.3"/><use href="#g" x="807.9" y="1684.5"/><use href="#g" x="818.0" y="1686.6"/><use href="#g" x="832.4" y="1690.5"/><use href="#g" x="841.8" y="1686.5"/><use href="#g" x="861.8" y="1684.7"/><use href="#g" x="643.1" y="1700.4"/><use href="#g" x="653.3" y="1699.4"/><use href="#g" x="666.6" y="1694.5"/><use href="#g" x="684.3" y="1700.5"/><use href="#g" x="691.9" y="1693.8"/><use href="#g" x="705.8" y="1698.7"/><use href="#g" x="717.2" y="1702.1"/><use href="#g" x="730.1" y="1700.2"/><use href="#g" x="750.3" y="1696.9"/><use href="#g" x="763.4" y="1695.0"/><use href="#g" x="776.0" y="1698.7"/><use href="#g" x="789.7" y="1700.7"/><use href="#g" x="802.1" y="1701.3"/><use href="#g" x="810.3" y="1693.7"/><use href="#g" x="822.5" y="1700.3"/><use href="#g" x="838.7" y="1697.9"/><use href="#g" x="851.3" y="1693.7"/><use href="#g" x="602.2" y="1711.7"/><use href="#g" x="610.7" y="1708.8"/><use href="#g" x="625.8" y="1706.2"/><use href="#g" x="632.6" y="1712.9"/><use href="#g" x="650.4" y="1711.1"/><use href="#g" x="663.3" y="1704.5"/><use href="#g" x="672.4" y="1706.0"/><use href="#g" x="693.2" y="1711.3"/><use href="#g" x="700.1" y="1707.9"/><use href="#g" x="719.3" y="1708.4"/><use href="#g" x="726.3" y="1708.7"/><use href="#g" x="738.0" y="1709.0"/><use href="#g" x="750.1" y="1708.6"/><use href="#g" x="763.5" y="1704.2"/><use href="#g" x="782.3" y="1708.4"/><use href="#g" x="789.9" y="1707.5"/><use href="#g" x="809.5" y="1707.1"/><use href="#g" x="816.9" y="1708.2"/><use href="#g" x="835.6" y="1709.5"/><use href="#g" x="844.8" y="1709.6"/><use href="#g" x="608.8" y="1717.3"/><use href="#g" x="619.3" y="1718.0"/><use href="#g" x="634.2" y="1718.8"/><use href="#g" x="645.9" y="1719.6"/><use href="#g" x="658.5" y="1721.1"/><use href="#g" x="668.5" y="1718.3"/><use href="#g" x="683.6" y="1720.8"/><use href="#g" x="696.3" y="1717.5"/><use href="#g" x="708.4" y="1718.9"/><use href="#g" x="720.4" y="1717.2"/><use href="#g" x="730.5" y="1714.9"/><use href="#g" x="744.4" y="1715.0"/><use href="#g" x="759.3" y="1723.1"/><use href="#g" x="772.6" y="1722.6"/><use href="#g" x="788.2" y="1722.7"/><use href="#g" x="800.9" y="1723.0"/><use href="#g" x="815.3" y="1715.0"/><use href="#g" x="821.0" y="1723.0"/><use href="#g" x="837.1" y="1720.2"/><use href="#g" x="561.4" y="1733.6"/><use href="#g" x="574.4" y="1732.1"/><use href="#g" x="584.4" y="1729.4"/><use href="#g" x="598.4" y="1733.5"/><use href="#g" x="614.2" y="1724.8"/><use href="#g" x="625.7" y="1731.2"/><use href="#g" x="640.6" y="1733.1"/><use href="#g" x="649.1" y="1728.4"/><use href="#g" x="660.6" y="1726.4"/><use href="#g" x="679.4" y="1731.4"/><use href="#g" x="692.0" y="1727.6"/><use href="#g" x="704.4" y="1724.8"/><use href="#g" x="715.0" y="1727.5"/><use href="#g" x="726.2" y="1733.7"/><use href="#g" x="736.5" y="1733.3"/><use href="#g" x="755.5" y="1733.7"/><use href="#g" x="766.1" y="1732.8"/><use href="#g" x="780.5" y="1729.9"/><use href="#g" x="794.2" y="1727.0"/><use href="#g" x="807.0" y="1726.2"/><use href="#g" x="814.7" y="1731.2"/><use href="#g" x="827.7" y="1733.0"/><use href="#g" x="549.0" y="1735.3"/><use href="#g" x="563.2" y="1739.7"/><use href="#g" x="576.8" y="1738.7"/><use href="#g" x="593.8" y="1741.1"/><use href="#g" x="602.1" y="1743.1"/><use href="#g" x="616.2" y="1740.2"/><use href="#g" x="629.2" y="1741.9"/><use href="#g" x="644.2" y="1739.6"/><use href="#g" x="653.5" y="1735.8"/><use href="#g" x="667.3" y="1742.8"/><use href="#g" x="686.4" y="1738.7"/><use href="#g" x="691.6" y="1736.9"/><use href="#g" x="712.5" y="1736.2"/><use href="#g" x="720.7" y="1735.7"/><use href="#g" x="734.5" y="1738.2"/><use href="#g" x="751.9" y="1744.0"/><use href="#g" x="760.5" y="1742.7"/><use href="#g" x="775.1" y="1739.3"/><use href="#g" x="789.0" y="1735.4"/><use href="#g" x="796.5" y="1742.6"/><use href="#g" x="812.7" y="1741.3"/><use href="#g" x="826.5" y="1742.7"/><use href="#g" x="836.2" y="1736.7"/><use href="#g" x="560.6" y="1746.5"/><use href="#g" x="572.2" y="1749.5"/><use href="#g" x="586.3" y="1746.0"/><use href="#g" x="600.6" y="1750.2"/><use href="#g" x="608.7" y="1747.0"/><use href="#g" x="626.9" y="1745.6"/><use href="#g" x="637.8" y="1748.2"/><use href="#g" x="648.6" y="1754.2"/><use href="#g" x="659.7" y="1747.1"/><use href="#g" x="671.6" y="1748.8"/><use href="#g" x="685.1" y="1745.9"/><use href="#g" x="703.7" y="1754.0"/><use href="#g" x="712.0" y="1750.9"/><use href="#g" x="732.2" y="1747.1"/><use href="#g" x="737.9" y="1750.0"/><use href="#g" x="749.9" y="1750.7"/><use href="#g" x="770.0" y="1753.5"/><use href="#g" x="776.5" y="1750.5"/><use href="#g" x="793.0" y="1749.6"/><use href="#g" x="803.1" y="1751.0"/><use href="#g" x="815.8" y="1751.7"/><use href="#g" x="828.3" y="1745.5"/><use href="#g" x="595.0" y="1759.1"/><use href="#g" x="603.1" y="1757.5"/><use href="#g" x="621.0" y="1764.3"/><use href="#g" x="626.4" y="1759.9"/><use href="#g" x="642.6" y="1758.0"/><use href="#g" x="658.0" y="1763.4"/><use href="#g" x="668.3" y="1764.8"/><use href="#g" x="683.5" y="1758.1"/><use href="#g" x="697.2" y="1757.1"/><use href="#g" x="707.7" y="1761.1"/><use href="#g" x="718.6" y="1756.8"/><use href="#g" x="733.4" y="1763.6"/><use href="#g" x="744.8" y="1760.1"/><use href="#g" x="761.5" y="1757.5"/><use href="#g" x="772.4" y="1763.7"/><use href="#g" x="789.1" y="1760.9"/><use href="#g" x="800.6" y="1755.9"/><use href="#g" x="810.1" y="1759.1"/><use href="#g" x="821.5" y="1759.9"/><use href="#g" x="640.1" y="1770.4"/><use href="#g" x="651.8" y="1771.4"/><use href="#g" x="666.5" y="1775.1"/><use href="#g" x="676.8" y="1772.8"/><use href="#g" x="690.9" y="1773.8"/><use href="#g" x="701.2" y="1772.2"/><use href="#g" x="714.2" y="1774.1"/><use href="#g" x="730.9" y="1769.3"/><use href="#g" x="741.4" y="1775.2"/><use href="#g" x="756.1" y="1768.3"/><use href="#g" x="766.8" y="1767.0"/><use href="#g" x="777.9" y="1773.6"/><use href="#g" x="790.1" y="1771.9"/><use href="#g" x="808.4" y="1774.9"/><use href="#g" x="818.3" y="1766.8"/><use href="#g" x="673.3" y="1781.8"/><use href="#g" x="683.9" y="1780.6"/><use href="#g" x="694.2" y="1782.0"/><use href="#g" x="711.1" y="1784.9"/><use href="#g" x="719.3" y="1780.8"/><use href="#g" x="734.0" y="1783.5"/><use href="#g" x="750.9" y="1785.5"/><use href="#g" x="762.0" y="1782.1"/><use href="#g" x="770.0" y="1777.2"/><use href="#g" x="782.1" y="1782.3"/><use href="#g" x="800.2" y="1777.0"/><use href="#g" x="674.1" y="1792.1"/><use href="#g" x="690.8" y="1792.1"/><use href="#g" x="699.2" y="1788.5"/><use href="#g" x="718.0" y="1795.2"/><use href="#g" x="726.5" y="1792.7"/><use href="#g" x="745.2" y="1788.4"/><use href="#g" x="754.1" y="1794.2"/><use href="#g" x="768.4" y="1792.3"/><use href="#g" x="684.1" y="1806.0"/><use href="#g" x="696.8" y="1801.1"/><use href="#g" x="708.5" y="1801.5"/><use href="#g" x="717.8" y="1805.0"/><use href="#g" x="731.5" y="1799.4"/><use href="#g" x="745.9" y="1803.8"/><use href="#g" x="759.7" y="1800.3"/><use href="#g" x="693.0" y="1809.7"/><use href="#g" x="701.6" y="1813.3"/><use href="#g" x="717.9" y="1816.2"/><use href="#g" x="731.6" y="1809.4"/><use href="#g" x="739.5" y="1808.3"/><use href="#g" x="694.7" y="1820.7"/><use href="#g" x="705.2" y="1820.5"/><use href="#g" x="718.1" y="1819.7"/><use href="#g" x="513.7" y="1747.6"/><use href="#g" x="545.7" y="1724.8"/><use href="#g" x="591.8" y="1719.6"/><use href="#g" x="603.6" y="1705.7"/><use href="#g" x="631.2" y="1699.5"/><use href="#g" x="652.0" y="1697.8"/><use href="#g" x="673.3" y="1691.6"/><use href="#g" x="686.2" y="1689.1"/><use href="#g" x="675.6" y="1645.5"/><use href="#g" x="682.1" y="1629.5"/><use href="#g" x="674.6" y="1604.4"/><use href="#g" x="709.9" y="1584.1"/><use href="#g" x="751.4" y="1582.6"/><use href="#g" x="783.8" y="1578.4"/><use href="#g" x="818.1" y="1569.1"/><use href="#g" x="837.8" y="1567.0"/><use href="#g" x="854.4" y="1561.8"/><use href="#g" x="858.6" y="1542.1"/><use href="#g" x="861.0" y="1520.3"/><use href="#g" x="554.1" y="1822.5"/><use href="#g" x="582.8" y="1824.8"/><use href="#g" x="602.8" y="1819.7"/><use href="#g" x="628.4" y="1792.7"/><use href="#g" x="653.4" y="1803.8"/><use href="#g" x="693.4" y="1830.6"/><use href="#g" x="706.2" y="1829.0"/><use href="#g" x="721.0" y="1821.7"/><use href="#g" x="746.3" y="1810.9"/><use href="#g" x="776.3" y="1788.5"/><use href="#g" x="800.2" y="1784.3"/><use href="#g" x="819.9" y="1782.9"/><use href="#g" x="830.4" y="1783.6"/><use href="#g" x="824.2" y="1779.3"/><use href="#g" x="864.2" y="1718.0"/><use href="#g" x="908.9" y="1650.1"/><use href="#g" x="930.7" y="1631.4"/><use href="#g" x="952.5" y="1619.0"/><use href="#g" x="981.9" y="1619.5"/><use href="#g" x="1000.7" y="1641.5"/><use href="#g" x="971.3" y="1717.8"/><use href="#g" x="983.6" y="1618.3"/><use href="#g" x="1019.2" y="1573.2"/><use href="#g" x="1230.0" y="1479.7"/><use href="#g" x="1139.2" y="1478.7"/><use href="#g" x="1154.8" y="1472.4"/><use href="#g" x="1150.5" y="1461.8"/><use href="#g" x="1139.3" y="1484.2"/><use href="#g" x="1003.0" y="1557.4"/><use href="#g" x="570.0" y="1795.0"/><use href="#g" x="590.0" y="1800.0"/><use href="#g" x="612.0" y="1790.0"/><use href="#g" x="640.0" y="1797.0"/><use href="#g" x="665.0" y="1812.0"/><use href="#g" x="600.0" y="1806.0"/><use href="#g" x="695.0" y="1612.0"/><use href="#g" x="700.0" y="1640.0"/>
</g>
<g>
<use href="#r" x="742.5" y="1648.9"/><use href="#r" x="771.4" y="1652.0"/><use href="#r" x="727.4" y="1693.3"/><use href="#r" x="722.3" y="1709.3"/><use href="#r" x="799.5" y="1706.2"/><use href="#r" x="799.3" y="1575.5"/><use href="#r" x="811.8" y="1589.0"/><use href="#r" x="917.1" y="1759.4"/><use href="#r" x="974.5" y="1442.1"/><use href="#r" x="925.3" y="1469.8"/><use href="#r" x="981.4" y="1495.0"/><use href="#r" x="963.1" y="1512.1"/><use href="#r" x="909.7" y="1527.9"/><use href="#r" x="938.8" y="1530.1"/><use href="#r" x="849.1" y="1559.6"/><use href="#r" x="821.5" y="1586.6"/><use href="#r" x="942.8" y="1587.0"/><use href="#r" x="937.0" y="1574.6"/><use href="#r" x="925.3" y="1574.1"/><use href="#r" x="871.3" y="1612.5"/><use href="#r" x="893.4" y="1613.8"/><use href="#r" x="848.2" y="1596.4"/><use href="#r" x="836.2" y="1652.9"/><use href="#r" x="868.0" y="1659.0"/><use href="#r" x="971.7" y="1673.2"/><use href="#r" x="814.4" y="1674.0"/><use href="#r" x="867.0" y="1643.0"/><use href="#r" x="1026.2" y="1474.7"/><use href="#r" x="1074.9" y="1437.1"/><use href="#r" x="1088.3" y="1433.4"/><use href="#r" x="1127.8" y="1428.2"/><use href="#r" x="1140.3" y="1427.6"/><use href="#r" x="1140.1" y="1351.7"/><use href="#r" x="1168.2" y="1343.1"/><use href="#r" x="1106.0" y="1520.4"/><use href="#r" x="1202.5" y="1470.0"/><use href="#r" x="1178.6" y="1479.5"/><use href="#r" x="1217.1" y="1446.0"/><use href="#r" x="1238.1" y="1421.3"/><use href="#r" x="1027.9" y="1526.2"/><use href="#r" x="1029.1" y="1502.4"/><use href="#r" x="1041.2" y="1587.3"/><use href="#r" x="1051.7" y="1605.5"/><use href="#r" x="1250.8" y="1268.3"/><use href="#r" x="1295.0" y="1314.5"/><use href="#r" x="1329.9" y="1313.9"/><use href="#r" x="1358.3" y="1300.0"/><use href="#r" x="1387.0" y="1310.5"/><use href="#r" x="1392.1" y="1345.1"/><use href="#r" x="1383.9" y="1335.1"/><use href="#r" x="1169.9" y="1337.8"/><use href="#r" x="1262.9" y="1343.6"/><use href="#r" x="1228.6" y="1366.0"/><use href="#r" x="1293.4" y="1363.3"/><use href="#r" x="1243.2" y="1371.6"/><use href="#r" x="1325.4" y="1352.4"/><use href="#r" x="1310.9" y="1371.0"/><use href="#r" x="1306.1" y="1398.0"/><use href="#r" x="1128.0" y="1427.6"/><use href="#r" x="1172.6" y="1393.4"/><use href="#r" x="1463.6" y="1284.0"/><use href="#r" x="1482.9" y="1282.1"/><use href="#r" x="1546.4" y="1225.3"/><use href="#r" x="1567.3" y="1221.1"/><use href="#r" x="1585.3" y="1180.6"/><use href="#r" x="1661.4" y="1166.5"/><use href="#r" x="1029.0" y="1480.0"/><use href="#r" x="1000.0" y="1515.0"/><use href="#r" x="985.0" y="1525.0"/><use href="#r" x="1010.0" y="1527.0"/><use href="#r" x="960.0" y="1535.0"/><use href="#r" x="975.0" y="1540.0"/><use href="#r" x="975.6" y="1551.5"/><use href="#r" x="965.6" y="1541.5"/><use href="#r" x="1076.8" y="1467.4"/><use href="#r" x="1103.0" y="1492.3"/><use href="#r" x="1106.7" y="1472.0"/><use href="#r" x="1106.7" y="1479.0"/><use href="#r" x="1100.0" y="1450.0"/><use href="#r" x="1115.0" y="1455.0"/><use href="#r" x="1090.0" y="1462.0"/><use href="#r" x="1268.0" y="1363.0"/><use href="#r" x="1180.0" y="1394.0"/><use href="#r" x="1100.0" y="1452.0"/><use href="#r" x="1112.0" y="1460.0"/><use href="#r" x="1103.0" y="1478.0"/><use href="#r" x="1118.0" y="1482.0"/><use href="#r" x="1095.0" y="1465.0"/><use href="#r" x="1195.0" y="1418.0"/><use href="#r" x="1210.0" y="1405.0"/><use href="#r" x="1225.0" y="1395.0"/><use href="#r" x="1200.0" y="1432.0"/><use href="#r" x="1255.0" y="1385.0"/><use href="#r" x="1275.0" y="1390.0"/><use href="#r" x="1285.0" y="1378.0"/><use href="#r" x="1240.0" y="1392.0"/><use href="#r" x="905.0" y="1585.0"/><use href="#r" x="918.0" y="1590.0"/><use href="#r" x="950.0" y="1585.0"/><use href="#r" x="930.0" y="1565.0"/><use href="#r" x="915.0" y="1572.0"/><use href="#r" x="1175.0" y="1385.0"/><use href="#r" x="1185.0" y="1400.0"/><use href="#r" x="1165.0" y="1400.0"/><use href="#r" x="1322.0" y="1322.0"/><use href="#r" x="1312.0" y="1340.0"/><use href="#r" x="1300.0" y="1390.0"/><use href="#r" x="1310.0" y="1384.0"/><use href="#r" x="1292.0" y="1378.0"/><use href="#r" x="1318.0" y="1362.0"/>
</g>
<g>
<use href="#c" x="662.9" y="1920.0"/><use href="#c" x="760.0" y="1914.8"/><use href="#c" x="844.0" y="1729.2"/><use href="#c" x="800.2" y="1754.4"/><use href="#c" x="805.4" y="1748.1"/><use href="#c" x="1191.7" y="1523.0"/><use href="#c" x="1152.0" y="1542.7"/><use href="#c" x="1136.0" y="1564.0"/><use href="#c" x="1041.5" y="1596.0"/><use href="#c" x="1070.3" y="1593.5"/><use href="#c" x="1073.8" y="1614.7"/><use href="#c" x="1066.6" y="1599.7"/><use href="#c" x="1224.6" y="1634.7"/><use href="#c" x="1068.0" y="1605.0"/><use href="#c" x="1072.0" y="1598.0"/>
</g>
</g>
<g stroke="#000" fill="none" shape-rendering="crispEdges">
<path d="M278,43V2024M1719,43V2024M273,48H1724M273,2018.5H1724" stroke-width="10"/>
<line x1="278.5" y1="1033.0" x2="1718.5" y2="1033.0" stroke-width="10"/>
<path d="M398.5,48.0v36.5M398.5,996.5v73.0M398.5,2018.5v-36.5M278.5,950.9h36.5M1718.5,950.9h-36.5M278.5,1936.4h36.5M1718.5,1936.4h-36.5M698.5,48.0v36.5M698.5,996.5v73.0M698.5,2018.5v-36.5M278.5,745.7h36.5M1718.5,745.7h-36.5M278.5,1731.1h36.5M1718.5,1731.1h-36.5M998.5,48.0v36.5M998.5,996.5v73.0M998.5,2018.5v-36.5M278.5,540.5h36.5M1718.5,540.5h-36.5M278.5,1525.8h36.5M1718.5,1525.8h-36.5M1298.5,48.0v36.5M1298.5,996.5v73.0M1298.5,2018.5v-36.5M278.5,335.3h36.5M1718.5,335.3h-36.5M278.5,1320.4h36.5M1718.5,1320.4h-36.5M1598.5,48.0v36.5M1598.5,996.5v73.0M1598.5,2018.5v-36.5M278.5,130.1h36.5M1718.5,130.1h-36.5M278.5,1115.1h36.5M1718.5,1115.1h-36.5" stroke-width="10"/>
<path d="M548.5,48.0v18.7M548.5,1014.3v37.4M548.5,2018.5v-18.7M278.5,848.3h18.7M1718.5,848.3h-18.7M278.5,1833.7h18.7M1718.5,1833.7h-18.7M848.5,48.0v18.7M848.5,1014.3v37.4M848.5,2018.5v-18.7M278.5,643.1h18.7M1718.5,643.1h-18.7M278.5,1628.4h18.7M1718.5,1628.4h-18.7M1148.5,48.0v18.7M1148.5,1014.3v37.4M1148.5,2018.5v-18.7M278.5,437.9h18.7M1718.5,437.9h-18.7M278.5,1423.1h18.7M1718.5,1423.1h-18.7M1448.5,48.0v18.7M1448.5,1014.3v37.4M1448.5,2018.5v-18.7M278.5,232.7h18.7M1718.5,232.7h-18.7M278.5,1217.8h18.7M1718.5,1217.8h-18.7" stroke-width="5"/>
</g>
<g font-size="76.5">
<text x="399.0" y="2087.8" text-anchor="middle">-5</text>
<text x="263" y="976.1" text-anchor="end">-5</text>
<text x="263" y="1961.6" text-anchor="end">-5</text>
<text x="699.0" y="2087.8" text-anchor="middle">0</text>
<text x="263" y="770.9" text-anchor="end">0</text>
<text x="263" y="1756.3" text-anchor="end">0</text>
<text x="999.0" y="2087.8" text-anchor="middle">5</text>
<text x="263" y="565.7" text-anchor="end">5</text>
<text x="263" y="1551.0" text-anchor="end">5</text>
<text x="1299.0" y="2087.8" text-anchor="middle">10</text>
<text x="263" y="360.5" text-anchor="end">10</text>
<text x="263" y="1345.6" text-anchor="end">10</text>
<text x="1599.0" y="2087.8" text-anchor="middle">15</text>
<text x="263" y="155.3" text-anchor="end">15</text>
<text x="263" y="1140.3" text-anchor="end">15</text>
</g>
<rect x="1007" y="736" width="649" height="226" fill="#fff" stroke="#000" stroke-width="5" shape-rendering="crispEdges"/>
<g shape-rendering="crispEdges"><use href="#g" x="1061" y="779.5"/><use href="#r" x="1061" y="848"/><use href="#c" x="1061" y="921.5"/></g>
<g font-size="74.5">
<text x="1133.8" y="802.5">No Water</text>
<text x="1142" y="874">Water as solvent</text>
<text x="1142" y="944.5">Water as solute</text>
</g>
<text transform="translate(375.5,215) scale(1.174,1)" font-size="87.4">Δ</text>
<text x="433.5" y="215" font-size="87.4" class="it">G</text>
<text x="495.2" y="162" font-size="62">self</text>
<text x="495" y="251" font-size="62" class="it">i,i</text>
<text x="630.5" y="215" font-size="87.4">predicted</text>
<text transform="translate(375.5,1195) scale(1.174,1)" font-size="87.4">Δ</text>
<text x="433.5" y="1195" font-size="87.4" class="it">G</text>
<text x="495.2" y="1142" font-size="62">self</text>
<text x="495" y="1231" font-size="62" class="it">i,i</text>
<text x="630.5" y="1195" font-size="87.4">reference</text>
<text x="1415.5" y="1912.5" font-size="87.4">SM12</text>
<g transform="translate(719,2185)">
<text x="0" y="0" font-size="87.4">ln</text>
<text transform="translate(87.1,2.4) scale(1.13,1)" font-size="80" style="font-family:'DejaVu Serif','Liberation Serif',serif">γ</text>
<text x="124.7" y="36" font-size="62" class="it">i,j</text>
<text x="145.8" y="-49.6" font-size="63.5">∞</text>
<text x="232.1" y="0" font-size="87.4">reference</text>
</g>
<g transform="translate(120.5,1292) rotate(-90)">
<text x="0" y="0" font-size="87.4">ln</text>
<text transform="translate(87.1,2.4) scale(1.13,1)" font-size="80" style="font-family:'DejaVu Serif','Liberation Serif',serif">γ</text>
<text x="124.7" y="36" font-size="62" class="it">i,j</text>
<text x="145.8" y="-49.6" font-size="63.5">∞</text>
<text x="232.1" y="0" font-size="87.4">predicted</text>
</g>
</svg></body></html>
